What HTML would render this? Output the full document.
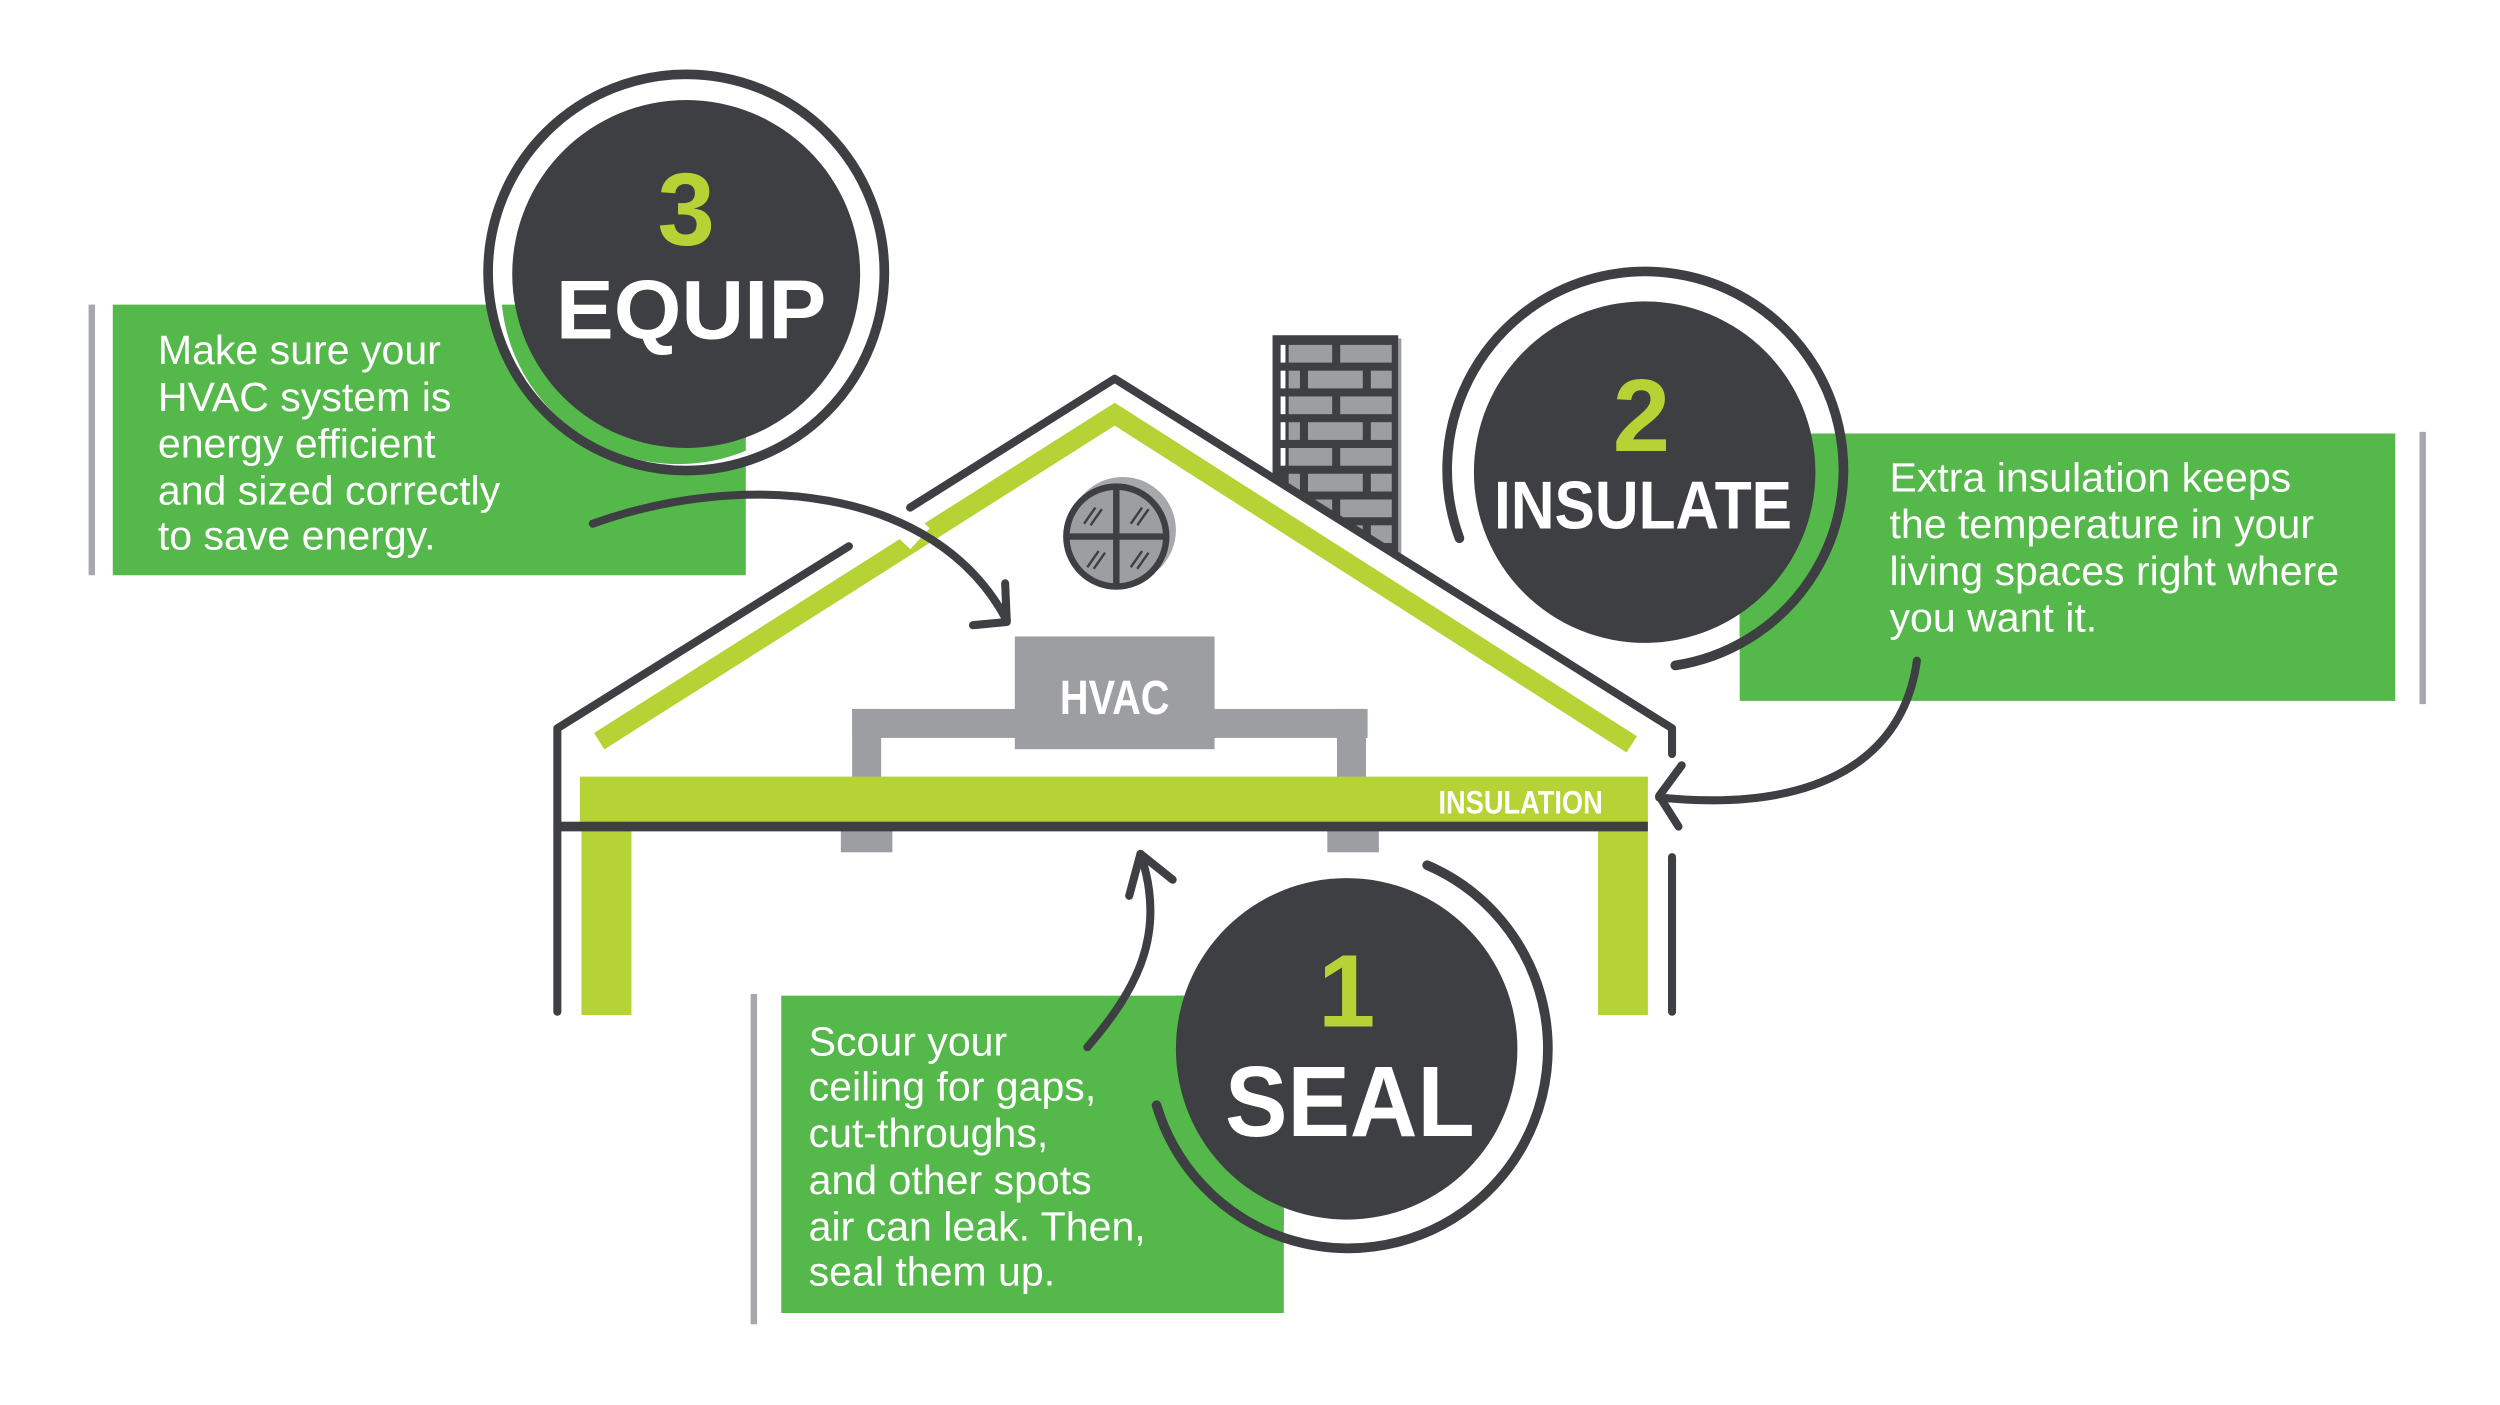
<!DOCTYPE html>
<html><head><meta charset="utf-8"><style>
html,body{margin:0;padding:0;background:#fff;}
svg{display:block;}
text{font-family:"Liberation Sans",sans-serif;}
</style></head><body>
<svg width="2500" height="1405" viewBox="0 0 1552 872" xmlns="http://www.w3.org/2000/svg">
<defs>
<clipPath id="cb1"><rect x="70" y="189" width="393" height="168"/></clipPath>
<clipPath id="cb2"><rect x="1080" y="269" width="407" height="166"/></clipPath>
<clipPath id="cb3"><rect x="485" y="618" width="312" height="197"/></clipPath>
<clipPath id="chim"><polygon points="788,206 870,206 870,346 788,294"/></clipPath>
</defs>
<rect width="1552" height="872" fill="#fff"/>

<rect x="55" y="189" width="4" height="168" fill="#a7a8ab"/>
<rect x="70" y="189" width="393" height="168" fill="#55b84a"/>
<rect x="1502" y="268" width="4" height="169" fill="#a7a8ab"/>
<rect x="1080" y="269" width="407" height="166" fill="#55b84a"/>
<rect x="466" y="617" width="4" height="205" fill="#a7a8ab"/>
<rect x="485" y="618" width="312" height="197" fill="#55b84a"/>

<g fill="#fff" font-size="25.5">
<text x="98" y="226">Make sure your</text>
<text x="98" y="255">HVAC system is</text>
<text x="98" y="284">energy efficient</text>
<text x="98" y="313">and sized correctly</text>
<text x="98" y="341">to save energy.</text>
<text x="1173" y="305">Extra insulation keeps</text>
<text x="1173" y="334">the temperature in your</text>
<text x="1173" y="363">living spaces right where</text>
<text x="1173" y="392">you want it.</text>
<text x="502" y="655">Scour your</text>
<text x="502" y="683">ceiling for gaps,</text>
<text x="502" y="712">cut-throughs,</text>
<text x="502" y="741">and other spots</text>
<text x="502" y="770">air can leak. Then,</text>
<text x="502" y="798">seal them up.</text>
</g>

<g clip-path="url(#chim)">
<rect x="868" y="210" width="5" height="140" fill="#9d9ea2"/>
<rect x="790" y="208" width="78" height="140" fill="#3e3f43"/>
<g fill="#9d9ea2">
<rect x="795" y="214" width="3" height="11" fill="#fff"/><rect x="800" y="214" width="27" height="11"/><rect x="832" y="214" width="32" height="11"/>
<rect x="795" y="230" width="3" height="11" fill="#fff"/><rect x="800" y="230" width="7" height="11"/><rect x="812" y="230" width="34" height="11"/><rect x="851" y="230" width="13" height="11"/>
<rect x="795" y="246" width="3" height="11" fill="#fff"/><rect x="800" y="246" width="27" height="11"/><rect x="832" y="246" width="32" height="11"/>
<rect x="795" y="262" width="3" height="11" fill="#fff"/><rect x="800" y="262" width="7" height="11"/><rect x="812" y="262" width="34" height="11"/><rect x="851" y="262" width="13" height="11"/>
<rect x="795" y="278" width="3" height="11" fill="#fff"/><rect x="800" y="278" width="27" height="11"/><rect x="832" y="278" width="32" height="11"/>
<rect x="800" y="294" width="7" height="11"/><rect x="812" y="294" width="34" height="11"/><rect x="851" y="294" width="13" height="11"/>
<rect x="800" y="310" width="27" height="11"/><rect x="832" y="310" width="32" height="11"/>
<rect x="812" y="326" width="34" height="11"/><rect x="851" y="326" width="13" height="11"/>
</g>
</g>
<line x1="692" y1="244" x2="1040" y2="463" stroke="#fff" stroke-width="16"/>

<polyline points="372,460 692,257 1013,462" fill="none" stroke="#b5d334" stroke-width="12"/>
<line x1="560" y1="336" x2="572" y2="323" stroke="#fff" stroke-width="14"/>

<g stroke="#3e3f43" stroke-width="5" fill="none" stroke-linecap="round" stroke-linejoin="round">
<polyline points="565,315 692,235 1038,452 1038,468"/>
<polyline points="527,339 346,452 346,628"/>
<line x1="1038" y1="532" x2="1038" y2="628"/>
</g>

<circle cx="697" cy="329" r="33" fill="#a7a8ab"/>
<circle cx="693" cy="333" r="31" fill="#9d9ea2" stroke="#3e3f43" stroke-width="4"/>
<line x1="662" y1="333" x2="724" y2="333" stroke="#3e3f43" stroke-width="4"/>
<line x1="693" y1="302" x2="693" y2="364" stroke="#3e3f43" stroke-width="4"/>
<g stroke="#3e3f43" stroke-width="1.5">
<line x1="673" y1="325" x2="680" y2="315"/><line x1="677" y1="326" x2="684" y2="316"/>
<line x1="702" y1="325" x2="709" y2="315"/><line x1="706" y1="326" x2="713" y2="316"/>
<line x1="675" y1="352" x2="682" y2="342"/><line x1="679" y1="353" x2="686" y2="343"/>
<line x1="702" y1="352" x2="709" y2="342"/><line x1="706" y1="353" x2="713" y2="343"/>
</g>

<g fill="#9d9ea2">
<rect x="529" y="440" width="320" height="18"/>
<rect x="529" y="440" width="18" height="44"/>
<rect x="830" y="440" width="18" height="44"/>
<rect x="630" y="395" width="124" height="70"/>
<rect x="522" y="515" width="32" height="14"/>
<rect x="824" y="515" width="32" height="14"/>
</g>
<text x="692" y="443" fill="#fff" font-size="30" font-weight="bold" text-anchor="middle" textLength="68" lengthAdjust="spacingAndGlyphs">HVAC</text>

<rect x="360" y="482" width="663" height="30" fill="#b5d334"/>
<rect x="361" y="512" width="31" height="118" fill="#b5d334"/>
<rect x="992" y="512" width="31" height="118" fill="#b5d334"/>
<rect x="346" y="510" width="677" height="6" fill="#3e3f43"/>
<text x="893" y="505" fill="#fff" font-size="20" font-weight="bold" textLength="102" lengthAdjust="spacingAndGlyphs">INSULATION</text>

<circle cx="426" cy="170" r="121" fill="#fff"/>
<g clip-path="url(#cb1)"><circle cx="421" cy="178" r="110" fill="#55b84a"/></g>
<circle cx="426" cy="169" r="123" fill="none" stroke="#3e3f43" stroke-width="6"/>
<circle cx="426" cy="170" r="108" fill="#3e3f43"/>
<text x="426" y="152" fill="#b5d334" font-size="64" font-weight="bold" text-anchor="middle">3</text>
<text x="429" y="210" fill="#fff" font-size="52" font-weight="bold" text-anchor="middle" textLength="168" lengthAdjust="spacingAndGlyphs">EQUIP</text>

<g clip-path="url(#cb2)"><circle cx="1027" cy="300" r="108" fill="#55b84a"/></g>
<path d="M906,334 A123,123 0 1 1 1040,413" fill="none" stroke="#3e3f43" stroke-width="6" stroke-linecap="round"/>
<circle cx="1021" cy="293" r="106" fill="#3e3f43"/>
<text x="1019" y="280" fill="#b5d334" font-size="64" font-weight="bold" text-anchor="middle">2</text>
<text x="1020" y="328" fill="#fff" font-size="42" font-weight="bold" text-anchor="middle" textLength="185" lengthAdjust="spacingAndGlyphs">INSULATE</text>

<g clip-path="url(#cb3)"><circle cx="830" cy="658" r="108" fill="#55b84a"/></g>
<path d="M886,537 A124,124 0 1 1 718,686" fill="none" stroke="#3e3f43" stroke-width="6" stroke-linecap="round"/>
<circle cx="836" cy="651" r="106" fill="#3e3f43"/>
<text x="836" y="637" fill="#b5d334" font-size="64" font-weight="bold" text-anchor="middle">1</text>
<text x="838" y="705" fill="#fff" font-size="62" font-weight="bold" text-anchor="middle" textLength="155" lengthAdjust="spacingAndGlyphs">SEAL</text>

<g stroke="#3e3f43" stroke-width="5" fill="none" stroke-linecap="round" stroke-linejoin="round">
<path d="M368,325 C460,292 580,300 625,385"/>
<polyline points="604,388 625,386 624,362"/>
<path d="M1190,410 C1182,470 1130,505 1030,495"/>
<polyline points="1044,475 1030,494 1042,513"/>
<path d="M675,650 C705,615 725,580 708,530"/>
<polyline points="701,556 708,530 728,546"/>
</g>
</svg>
</body></html>
